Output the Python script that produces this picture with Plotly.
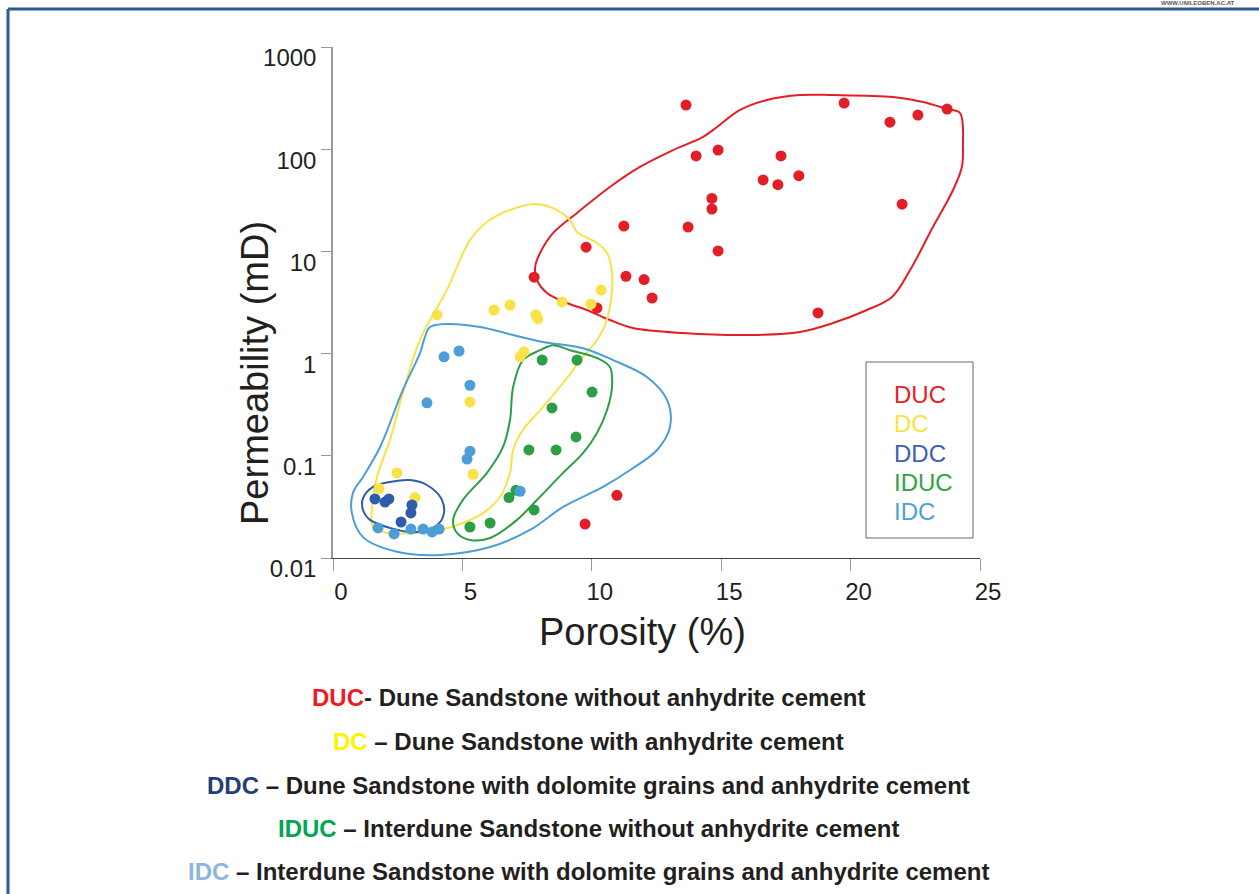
import plotly.graph_objects as go

# ---------------- data ----------------
# DUC - Dune Sandstone without anhydrite cement
duc_por = [13.64, 19.75, 21.52, 22.6, 23.73, 14.03, 14.88, 17.31, 18.0, 16.62, 17.19, 14.64, 14.64,
           21.99, 11.24, 13.72, 14.88, 9.78, 7.77, 11.32, 12.02, 12.33, 10.2, 18.74, 10.97, 9.74]
duc_perm = [270, 283, 184, 216, 247, 86, 98, 86, 55, 50, 45, 33, 26,
            29, 17.7, 17.3, 10.1, 11, 5.6, 5.7, 5.3, 3.5, 2.8, 2.5, 0.041, 0.0215]

# DC - Dune Sandstone with anhydrite cement
dc_por = [4.02, 6.22, 6.84, 7.84, 7.92, 8.85, 9.97, 10.36, 7.38, 7.23, 5.29, 2.47, 5.41, 1.78, 3.17]
dc_perm = [2.39, 2.67, 2.99, 2.4, 2.2, 3.2, 3.06, 4.19, 1.04, 0.93, 0.336, 0.068, 0.066, 0.048, 0.039]

# IDUC - Interdune Sandstone without anhydrite cement
iduc_por = [8.08, 9.43, 10.01, 8.46, 9.39, 7.57, 8.62, 7.07, 6.80, 7.77, 6.07, 5.29]
iduc_perm = [0.866, 0.866, 0.42, 0.294, 0.153, 0.114, 0.114, 0.046, 0.039, 0.0295, 0.022, 0.0201]

# IDC - Interdune Sandstone with dolomite grains and anhydrite cement
idc_por = [4.87, 4.29, 5.29, 3.63, 5.29, 5.18, 7.23, 1.74, 2.36, 3.01, 3.48, 3.83, 4.10]
idc_perm = [1.06, 0.93, 0.49, 0.33, 0.111, 0.093, 0.045, 0.0197, 0.0172, 0.0192, 0.0192, 0.018, 0.0192]

# DDC - Dune Sandstone with dolomite grains and anhydrite cement
ddc_por = [1.62, 2.01, 2.16, 3.05, 3.01, 2.63]
ddc_perm = [0.0378, 0.0353, 0.0378, 0.033, 0.0276, 0.0225]

# hand-drawn envelopes (porosity %, permeability mD)
duc_env_por = [23.73, 24.23, 24.34, 24.30, 23.96, 23.18, 22.30, 21.60, 20.63, 19.32, 18.04, 16.11,
               13.52, 11.59, 10.70, 9.81, 9.04, 8.27, 7.88, 7.81, 8.00, 8.50, 9.43, 10.70, 11.86,
               13.14, 14.30, 14.84, 15.73, 16.77, 18.04, 19.32, 21.64, 22.80]
duc_env_perm = [247, 226, 105, 67, 39.9, 17.3, 6.58, 3.58, 2.67, 1.99, 1.63, 1.52,
                1.59, 1.78, 2.13, 2.67, 3.13, 3.92, 5.25, 7.03, 9.64, 15.1, 23.8, 42.7, 67,
                98, 132, 165, 242, 303, 339, 339, 324, 290]

dc_env_por = [7.81, 8.66, 9.16, 9.43, 10.20, 10.59, 10.78, 10.70, 10.51, 10.20, 9.66, 8.89, 8.11,
              7.34, 6.96, 6.84, 6.45, 5.80, 5.02, 4.13, 3.09, 2.09, 1.55, 1.51, 1.70, 2.20, 2.70,
              3.36, 4.40, 5.29, 5.95, 6.84]
dc_env_perm = [29.1, 25.4, 20.3, 15.5, 12.1, 9.64, 6.15, 2.86, 1.90, 1.36, 0.927, 0.515, 0.300,
               0.179, 0.114, 0.068, 0.0395, 0.0275, 0.0220, 0.0188, 0.0176, 0.0176, 0.0201, 0.0316,
               0.0621, 0.143, 0.411, 1.36, 4.19, 12.9, 19.4, 25.4]

idc_env_por = [3.55, 3.75, 4.40, 5.68, 6.96, 8.11, 9.66, 10.82, 12.13, 12.91, 13.02, 12.52, 11.48,
               10.43, 8.89, 7.61, 6.07, 4.13, 2.47, 1.16, 0.73, 0.77, 1.16, 1.82, 2.70, 3.36]
idc_env_perm = [1.45, 1.82, 1.95, 1.82, 1.52, 1.30, 1.13, 0.865, 0.590, 0.351, 0.191, 0.114, 0.0726,
                0.0496, 0.0316, 0.0188, 0.0128, 0.0107, 0.0115, 0.0160, 0.0275, 0.0433, 0.0621,
                0.122, 0.441, 1.01]

iduc_env_por = [8.50, 9.16, 10.20, 10.70, 10.78, 10.59, 10.20, 9.66, 8.89, 7.88, 7.11, 6.07, 5.29,
                4.79, 4.64, 5.02, 5.95, 6.57, 6.84, 6.96, 7.34, 8.00]
iduc_env_perm = [1.21, 1.08, 0.906, 0.740, 0.471, 0.281, 0.167, 0.106, 0.068, 0.037, 0.0236, 0.0157,
                 0.0150, 0.0176, 0.0236, 0.037, 0.068, 0.122, 0.224, 0.471, 0.865, 1.08]

ddc_env_por = [1.16, 1.55, 2.20, 2.98, 3.63, 4.21, 4.25, 3.86, 3.09, 2.20, 1.43, 1.16]
ddc_env_perm = [0.0386, 0.0496, 0.0555, 0.0579, 0.0518, 0.037, 0.0252, 0.0197, 0.0179, 0.0197,
                0.0236, 0.0295]

x_ticks = [0, 5, 10, 15, 20, 25]
y_ticks = [0.01, 0.1, 1, 10, 100, 1000]
y_tick_text = ["0.01", "0.1", "1", "10", "100", "1000"]

legend_names = ["DUC", "DC", "DDC", "IDUC", "IDC"]
descriptions = [
    ("DUC", "- Dune Sandstone without anhydrite cement"),
    ("DC", " \u2013 Dune Sandstone with anhydrite cement"),
    ("DDC", " \u2013 Dune Sandstone with dolomite grains and anhydrite cement"),
    ("IDUC", " \u2013 Interdune Sandstone without anhydrite cement"),
    ("IDC", " \u2013 Interdune Sandstone with dolomite grains and anhydrite cement"),
]

# ---------------- styles ----------------
C_RED = "#e31e26"
C_YEL = "#f8e24a"
C_DBL = "#2f5cab"
C_GRN = "#2c9e46"
C_LBL = "#4c9dd8"
legend_colors = [C_RED, "#f9e43c", "#3a62b0", "#2ea447", "#4f9fdb"]
desc_colors = ["#ed1c24", "#fff200", "#1f3f7a", "#00a651", "#8eb4e3"]

W, H = 1259, 894
L, R, T, B = 333, 980, 47, 558
PW, PH = R - L, B - T


def px(xp):
    return (xp - L) / PW


def py(yp):
    return (B - yp) / PH


fig = go.Figure()

envs = [
    (duc_env_por, duc_env_perm, C_RED),
    (dc_env_por, dc_env_perm, C_YEL),
    (idc_env_por, idc_env_perm, C_LBL),
    (iduc_env_por, iduc_env_perm, C_GRN),
    (ddc_env_por, ddc_env_perm, C_DBL),
]
for ex, ey, col in envs:
    fig.add_trace(go.Scatter(x=ex + ex[:1], y=ey + ey[:1], mode="lines",
                             line=dict(color=col, width=2, shape="spline", smoothing=1.0),
                             hoverinfo="skip", showlegend=False))

pts = [
    (duc_por, duc_perm, C_RED),
    (dc_por, dc_perm, C_YEL),
    (iduc_por, iduc_perm, C_GRN),
    (idc_por, idc_perm, C_LBL),
    (ddc_por, ddc_perm, C_DBL),
]
for xs, ys, col in pts:
    fig.add_trace(go.Scatter(x=xs, y=ys, mode="markers",
                             marker=dict(color=col, size=11, line=dict(width=0)),
                             showlegend=False, cliponaxis=False))

annotations = []
# axis titles
annotations.append(dict(text="Porosity (%)", x=px(642), y=py(632), xref="paper", yref="paper",
                        xanchor="center", yanchor="middle",
                        showarrow=False, font=dict(size=38, color="#231f20")))
annotations.append(dict(text="Permeability (mD)", x=px(255), y=py(373), xref="paper", yref="paper",
                        xanchor="center", yanchor="middle",
                        showarrow=False, textangle=-90, font=dict(size=38, color="#231f20")))
# legend box texts
leg_y = [394, 423, 453, 482, 511]
for name, col, yy in zip(legend_names, legend_colors, leg_y):
    annotations.append(dict(text=name, x=px(892), y=py(yy), xref="paper", yref="paper",
                            xanchor="left", yanchor="middle", showarrow=False,
                            font=dict(size=24, color=col)))
# bottom descriptions
desc_y = [697, 741, 785, 828, 871]
for (abbr, rest), col, yy in zip(descriptions, desc_colors, desc_y):
    txt = "<b><span style='color:%s'>%s</span>%s</b>" % (col, abbr, rest)
    annotations.append(dict(text=txt, x=px(588), y=py(yy), xref="paper", yref="paper",
                            xanchor="center", yanchor="middle", showarrow=False,
                            font=dict(size=24, color="#231f20",
                                      family="Liberation Sans Narrow, Arial Narrow, Liberation Sans, Arial")))
# tiny web address
annotations.append(dict(text="<b>WWW.UNILEOBEN.AC.AT</b>", x=px(1198), y=py(3), xref="paper", yref="paper",
                        xanchor="center", yanchor="middle",
                        showarrow=False, font=dict(size=6, color="#555")))

shapes = [
    # legend frame
    dict(type="rect", xref="paper", yref="paper", x0=px(866), x1=px(973), y0=py(538), y1=py(362),
         line=dict(color="#666", width=1)),
    # page frame
    dict(type="line", xref="paper", yref="paper", x0=px(8), x1=px(1259), y0=py(9), y1=py(9),
         line=dict(color="#2b5b8f", width=3)),
    dict(type="line", xref="paper", yref="paper", x0=px(8), x1=px(8), y0=py(9), y1=py(894),
         line=dict(color="#2b5b8f", width=3)),
]

fig.update_layout(
    width=W, height=H, autosize=False,
    margin=dict(l=L, r=W - R, t=T, b=H - B, pad=0),
    paper_bgcolor="white", plot_bgcolor="white",
    font=dict(family="Liberation Sans, Arial, sans-serif", color="#231f20"),
    showlegend=False,
    annotations=annotations,
    shapes=shapes,
    xaxis=dict(range=[0, 25], tickvals=x_ticks, ticktext=[str(v) for v in x_ticks],
               ticks="outside", ticklen=12, tickcolor="#999", tickwidth=1,
               showline=True, linecolor="#444", linewidth=1, showgrid=False, zeroline=False,
               tickfont=dict(size=24, color="#231f20"), ticklabelshift=8, fixedrange=True),
    yaxis=dict(type="log", range=[-2, 3], tickvals=y_ticks, ticktext=y_tick_text,
               ticks="outside", ticklen=10, tickcolor="#999", tickwidth=1,
               showline=True, linecolor="#999", linewidth=1.5, showgrid=False, zeroline=False,
               tickfont=dict(size=24, color="#231f20"), ticklabelshift=11, fixedrange=True),
)

fig.write_html("out.html")
